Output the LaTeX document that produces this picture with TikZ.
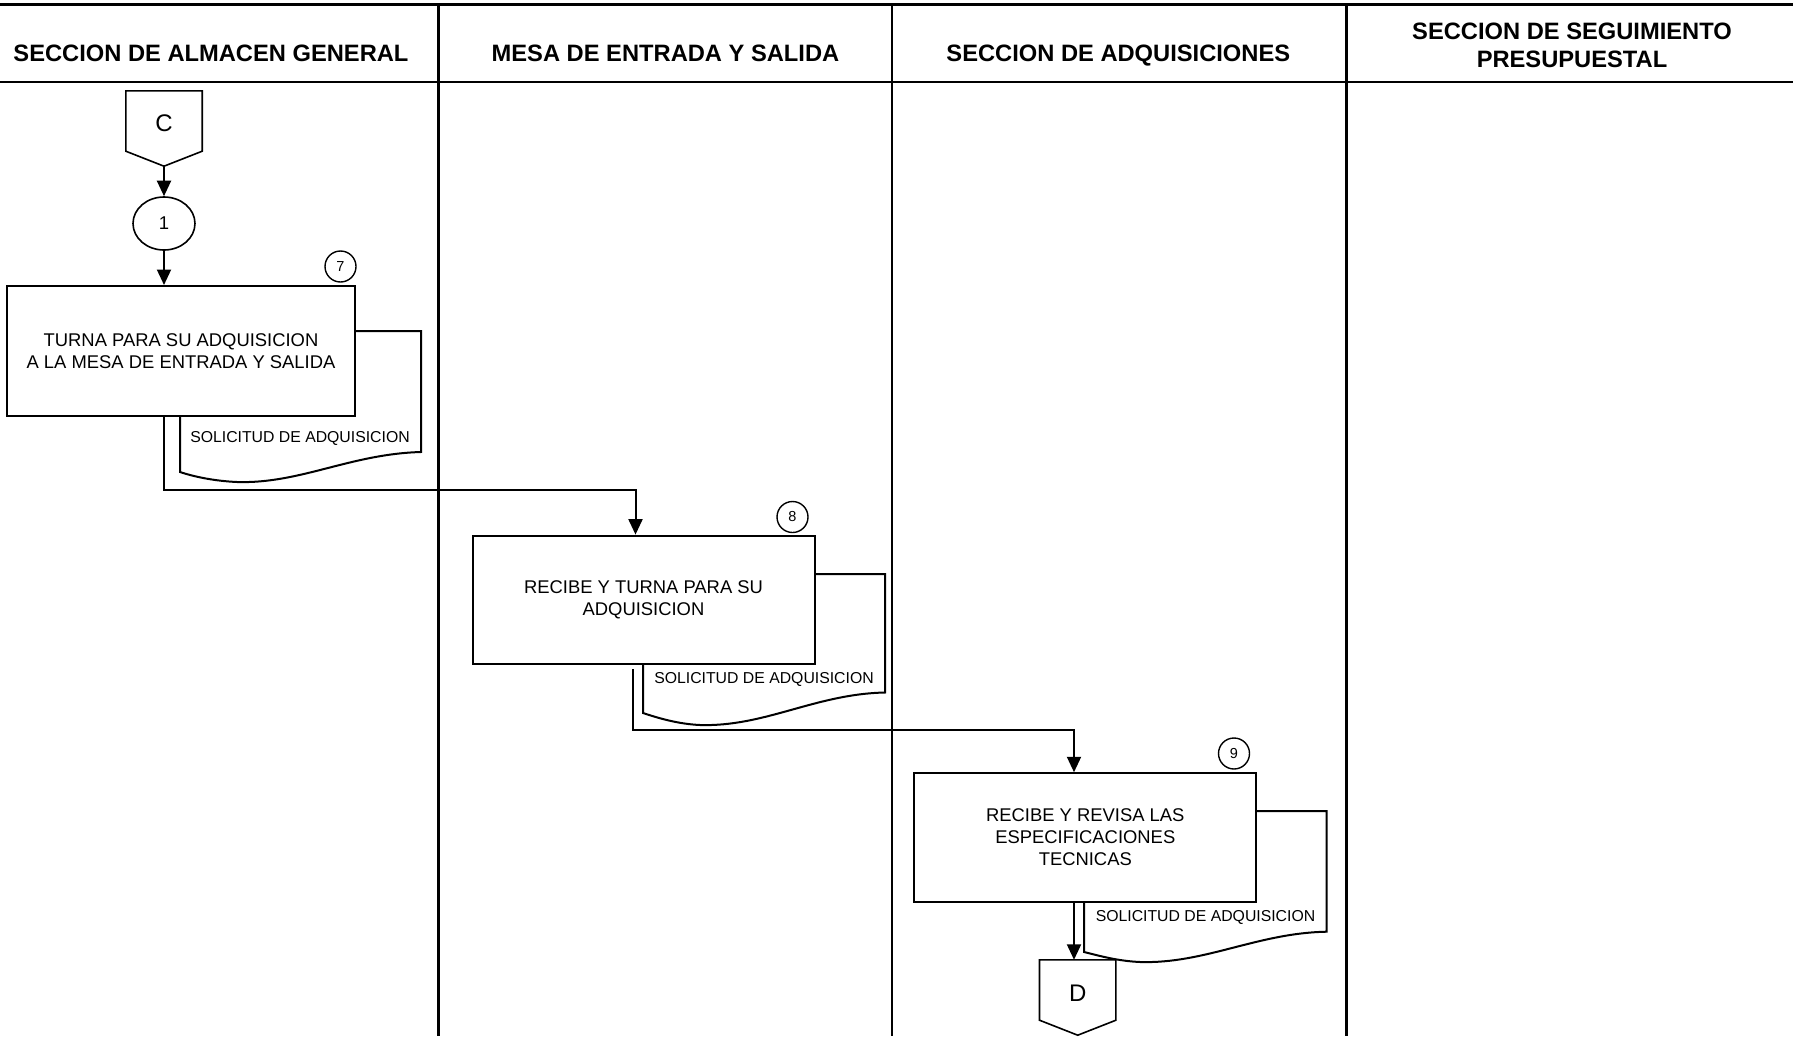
\documentclass[tikz,border=0pt]{standalone}
\usepackage{fontspec}
\setmainfont{Liberation Sans}
\usetikzlibrary{arrows.meta,calc,shapes.geometric}

\begin{document}
\begin{tikzpicture}[x=1pt,y=-1pt,
  lane/.style={line width=2.4pt},
  hdr/.style={font=\fontsize{23.7}{28}\selectfont\bfseries, align=center},
  task/.style={draw, line width=2pt, minimum width=342pt, minimum height=128pt,
    inner sep=0pt, align=center, font=\fontsize{18.4}{22}\selectfont},
  stepno/.style={draw, circle, line width=1.4pt, minimum size=31pt, inner sep=0pt,
    font=\fontsize{14.5}{17}\selectfont},
  docline/.style={line width=2pt},
  doclabel/.style={font=\fontsize{15.8}{18}\selectfont},
  flow/.style={line width=2pt, -{Triangle[length=15.5pt,width=14pt]}},
  offpage/.style={minimum width=76pt, minimum height=75pt, inner sep=0pt},
  offline/.style={line width=1.6pt},
  letter/.style={font=\fontsize{24}{28}\selectfont, inner sep=0pt},
]
\useasboundingbox (0,0) rectangle (1793,1036);

% swimlane grid
\draw[lane] (0,4.5) -- (1793,4.5);
\draw[lane] (0,81.7) -- (1793,81.7);
\foreach \lx in {438.5,892,1346.5}
  \draw[lane] (\lx,4.5) -- (\lx,1036);

% lane titles (single-line titles share one baseline)
\node[hdr, anchor=base] (h1) at (211,61.5) {SECCION DE ALMACEN GENERAL};
\node[hdr, anchor=base] (h2) at (665.5,61.5) {MESA DE ENTRADA Y SALIDA};
\node[hdr, anchor=base] (h3) at (1118.3,61.5) {SECCION DE ADQUISICIONES};
\node[hdr] (h4) at (1572,45) {SECCION DE SEGUIMIENTO\\PRESUPUESTAL};

% incoming off-page connector C
\node[offpage] (C) at (164,128.5) {};
\draw[offline] (C.north west) -- (C.north east) -- ([yshift=15pt]C.south east)
  -- (C.south) -- ([yshift=15pt]C.south west) -- cycle;
\node[letter] (Ct) at (164,123.5) {C};

% start marker
\node[draw, ellipse, line width=1.6pt, minimum width=62pt, minimum height=53pt,
  inner sep=0pt, font=\fontsize{18.5}{22}\selectfont] (e1) at (164,223.5) {1};

% activities
\node[task, minimum width=348pt, minimum height=130pt] (b7) at (181,351)
  {TURNA PARA SU ADQUISICION\\A LA MESA DE ENTRADA Y SALIDA};
\node[task] (b8) at (643.5,599.6) {RECIBE Y TURNA PARA SU\\ADQUISICION};
\node[task, minimum height=128.5pt] (b9) at (1085.3,837.5)
  {RECIBE Y REVISA LAS\\ESPECIFICACIONES\\TECNICAS};

% step numbers
\node[stepno] (n7) at (340.5,266.5) {7};
\node[stepno] (n8) at (792.5,517) {8};
\node[stepno] (n9) at (1234,753.5) {9};

% documents attached to each activity
\draw[docline] (355,331) -- (421,331) -- (421,452)
  .. controls (350,454) and (300,484) .. (237,482)
  .. controls (215,481) and (195,477) .. (180,472) -- (180,416);
\node[doclabel] (l7) at (300,438) {SOLICITUD DE ADQUISICION};

\draw[docline] (814.5,574) -- (885,574) -- (885,692.5)
  .. controls (815,694) and (765,727) .. (700,725)
  .. controls (678,724) and (658,718) .. (643,713) -- (643,663.6);
\node[doclabel] (l8) at (764,679.2) {SOLICITUD DE ADQUISICION};

\draw[docline] (1256.3,811) -- (1326.7,811) -- (1326.7,931.7)
  .. controls (1257,933) and (1205,964) .. (1140,962)
  .. controls (1118,961) and (1100,956) .. (1084,952) -- (1084,901.7);
\node[doclabel] (l9) at (1205.5,917.5) {SOLICITUD DE ADQUISICION};

% outgoing off-page connector D
\node[offpage] (D) at (1077.7,997.5) {};
\draw[offline] (D.north west) -- (D.north east) -- ([yshift=15pt]D.south east)
  -- (D.south) -- ([yshift=15pt]D.south west) -- cycle;
\node[letter] (Dt) at (1077.7,993.7) {D};

% flow
\coordinate (k1) at (164,489.5);
\coordinate (k2) at (635.5,489.5);
\coordinate (k3) at (632.7,730);
\coordinate (k4) at (1074,730);
\draw[flow] (C.south) -- (e1.north);
\draw[flow] (e1.south) -- (e1.south |- b7.north);
\draw[flow] (b7.south -| e1.south) -- (k1) -- (k2) -- (k2 |- b8.north);
\draw[flow] ([yshift=-4.5pt]b8.south -| k3) -- (k3) -- (k4) -- (k4 |- b9.north);
\draw[flow] (b9.south -| k4) -- (k4 |- D.north);
\end{tikzpicture}
\end{document}
